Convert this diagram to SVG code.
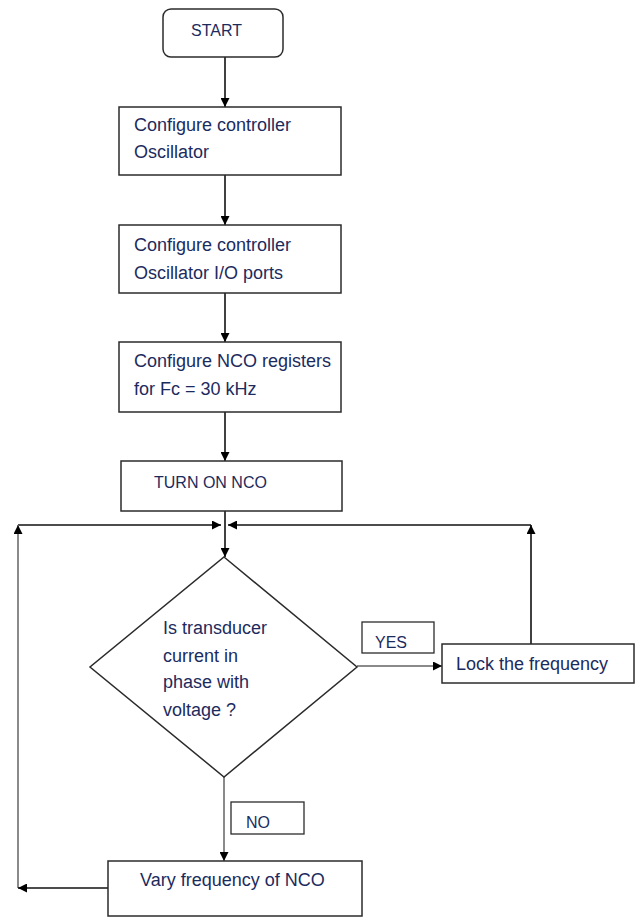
<svg xmlns="http://www.w3.org/2000/svg" width="643" height="917" viewBox="0 0 643 917">
<style>
  .box { fill: #ffffff; stroke: #2b2b2b; stroke-width: 1.5; }
  .lbl { fill: #ffffff; stroke: #2b2b2b; stroke-width: 1.3; }
  .t { font-family: "Liberation Sans", Arial, sans-serif; font-size: 18px; fill: #1c2b5e; }
  .c { font-family: "Liberation Sans", Arial, sans-serif; font-size: 16px; fill: #1c2b5e; }
  .ln { fill: none; stroke: #111111; stroke-width: 1.6; }
  .gl { fill: none; stroke: #8a8a8a; stroke-width: 2; }
</style>
<defs>
  <marker id="ah" viewBox="0 0 10 10" refX="10" refY="5" markerUnits="userSpaceOnUse" markerWidth="9" markerHeight="9" orient="auto">
    <path d="M0,0 L10,5 L0,10 z" fill="#000000"/>
  </marker>
</defs>
<rect width="643" height="917" fill="#ffffff"/>

<g id="connectors">
  <line class="ln" x1="225" y1="57" x2="225" y2="107" marker-end="url(#ah)"/>
  <line class="ln" x1="225" y1="175" x2="225" y2="225" marker-end="url(#ah)"/>
  <line class="ln" x1="225" y1="293" x2="225" y2="342" marker-end="url(#ah)"/>
  <line class="ln" x1="225" y1="412" x2="225" y2="461" marker-end="url(#ah)"/>
  <line class="ln" x1="225" y1="511" x2="225" y2="557" marker-end="url(#ah)"/>
  <line class="ln" x1="18" y1="525" x2="221" y2="525" marker-end="url(#ah)"/>
  <line class="ln" x1="531" y1="525" x2="228" y2="525" marker-end="url(#ah)"/>
  <line class="ln" x1="531" y1="644" x2="531" y2="525" marker-end="url(#ah)"/>
  <line class="gl" x1="18" y1="888" x2="18" y2="525" marker-end="url(#ah)"/>
  <line class="ln" x1="108" y1="888" x2="18" y2="888" marker-end="url(#ah)"/>
  <line class="gl" x1="357" y1="666" x2="442" y2="666" marker-end="url(#ah)"/>
  <line class="gl" x1="224" y1="777" x2="224" y2="861" marker-end="url(#ah)"/>
</g>

<g id="start">
  <rect class="box" x="163" y="9" width="120" height="48" rx="8" ry="8"/>
  <text class="c" x="191" y="36">START</text>
</g>
<g id="config-osc">
  <rect class="box" x="119" y="107" width="222" height="68"/>
  <text class="t" x="134" y="131">Configure controller</text>
  <text class="t" x="134" y="158">Oscillator</text>
</g>
<g id="config-io">
  <rect class="box" x="119" y="225" width="222" height="68"/>
  <text class="t" x="134" y="251">Configure controller</text>
  <text class="t" x="134" y="279">Oscillator I/O ports</text>
</g>
<g id="config-nco">
  <rect class="box" x="119" y="342" width="222" height="70"/>
  <text class="t" x="134" y="367">Configure NCO registers</text>
  <text class="t" x="134" y="395">for Fc = 30 kHz</text>
</g>
<g id="turn-on">
  <rect class="box" x="121" y="461" width="221" height="50"/>
  <text class="c" x="154" y="488">TURN ON NCO</text>
</g>
<g id="decision">
  <polygon class="box" points="224,557 357,667 224,777 90,667"/>
  <text class="t" x="163" y="634">Is transducer</text>
  <text class="t" x="163" y="662">current in</text>
  <text class="t" x="163" y="688">phase with</text>
  <text class="t" x="163" y="716">voltage ?</text>
</g>
<g id="yes-label">
  <rect class="lbl" x="362" y="622" width="72" height="31"/>
  <text class="c" x="375" y="648">YES</text>
</g>
<g id="lock">
  <rect class="box" x="442" y="644" width="192" height="39"/>
  <text class="t" x="456" y="670">Lock the frequency</text>
</g>
<g id="no-label">
  <rect class="lbl" x="231" y="802" width="73" height="32"/>
  <text class="c" x="246" y="828">NO</text>
</g>
<g id="vary">
  <rect class="box" x="108" y="861" width="254" height="55"/>
  <text class="t" x="140" y="886">Vary frequency of NCO</text>
</g>
</svg>
